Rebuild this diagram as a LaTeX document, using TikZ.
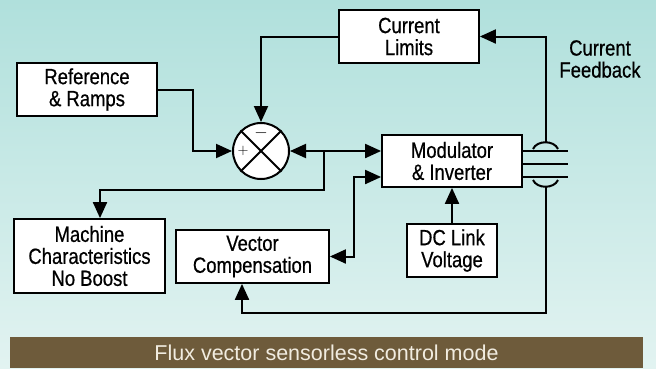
\documentclass[tikz,border=0pt]{standalone}
\usepackage{fontspec}
\setmainfont{Liberation Sans}[FakeStretch=0.84,FakeBold=0.6]
\newfontfamily\bannerfont{Liberation Sans}
\usetikzlibrary{arrows.meta}
\definecolor{bgtop}{RGB}{176,224,220}
\definecolor{bgbot}{RGB}{226,243,241}
\definecolor{bannerbg}{RGB}{110,91,59}
\definecolor{bantext}{RGB}{241,236,224}
\begin{document}
\begin{tikzpicture}[x=1pt,y=-1pt,line width=2pt,
  box/.style={draw, fill=white, line width=1.8pt, align=center, inner sep=0pt,
    font=\fontsize{22}{22}\selectfont},
  arr/.style={-{Triangle[length=16pt,width=14pt]}},
  arrboth/.style={{Triangle[length=16pt,width=14pt]}-{Triangle[length=16pt,width=14pt]}},
  lbl/.style={align=center, font=\fontsize{22}{22}\selectfont},
  bannerstyle/.style={fill=bannerbg, draw=none, text=bantext, inner sep=0pt,
    font=\bannerfont\fontsize{21.5}{21}\selectfont}]
\useasboundingbox (0,0) rectangle (656,368);
\shade[top color=bgtop,bottom color=bgbot] (0,0) rectangle (656,368);

\node[box, minimum width=140pt, minimum height=53pt] (CL) at (409,36.5) {Current\\Limits};
\node[box, minimum width=140pt, minimum height=53pt] (RR) at (87,89.5) {Reference\\\& Ramps};
\node[circle, draw, fill=white, minimum size=56pt, inner sep=0pt] (sum) at (261,151) {};
\draw (sum.45) -- (sum.225);
\draw (sum.135) -- (sum.-45);
\node[font=\fontsize{16}{16}\selectfont, inner sep=0pt] (minus) at ([yshift=18pt]sum.center) {$-$};
\node[font=\fontsize{15}{15}\selectfont, inner sep=0pt] (plus) at ([xshift=-18pt]sum.center) {$+$};
\node[box, minimum width=140pt, minimum height=52pt] (MI) at (452,161) {Modulator\\\& Inverter};
\node[box, minimum width=151pt, minimum height=74pt] (MC) at (89.5,256) {Machine\\Characteristics\\No Boost};
\node[box, minimum width=153pt, minimum height=53pt] (VC) at (252.5,256.5) {Vector\\Compensation};
\node[box, minimum width=90pt, minimum height=53pt] (DC) at (452,250.5) {DC Link\\Voltage};
\node[lbl] (FB) at (600,59) {Current\\Feedback};
\node[bannerstyle, minimum width=633pt, minimum height=31pt] (BN) at (326.5,352.5) {Flux vector sensorless control mode};

\coordinate (J) at (324,151);
\coordinate (fbT) at (545.5,142.5);
\coordinate (fbB) at (545.5,186.5);

\draw[arr] (CL.west) -| (sum.north);
\draw[arr] (RR.east) -- ++(35,0) |- (sum.west);
\draw[arr] (J) -- (sum.east);
\draw[arr] (J) -- (MI.west |- J);
\draw[arr] (J) -- ++(0,39) -| ([xshift=10.5pt]MC.north);
\draw[arrboth] ([yshift=-16pt]MI.west) -- ++(-27,0) |- (VC.east);
\draw[arr] (DC.north) -- (MI.south);

\draw ([yshift=10pt]MI.east) -- ++(45,0);
\draw ([yshift=-3pt]MI.east) -- ++(45,0);
\draw ([yshift=-16pt]MI.east) -- ++(45,0);
\draw (533,149) .. controls (537,140) and (554,140) .. (558,149);
\draw (533,180) .. controls (537,189) and (554,189) .. (558,180);
\draw[arr] (fbT) |- (CL.east);
\draw[arr] (fbB) -- (545.5,313) -| ([xshift=-10.5pt]VC.south);
\end{tikzpicture}
\end{document}
